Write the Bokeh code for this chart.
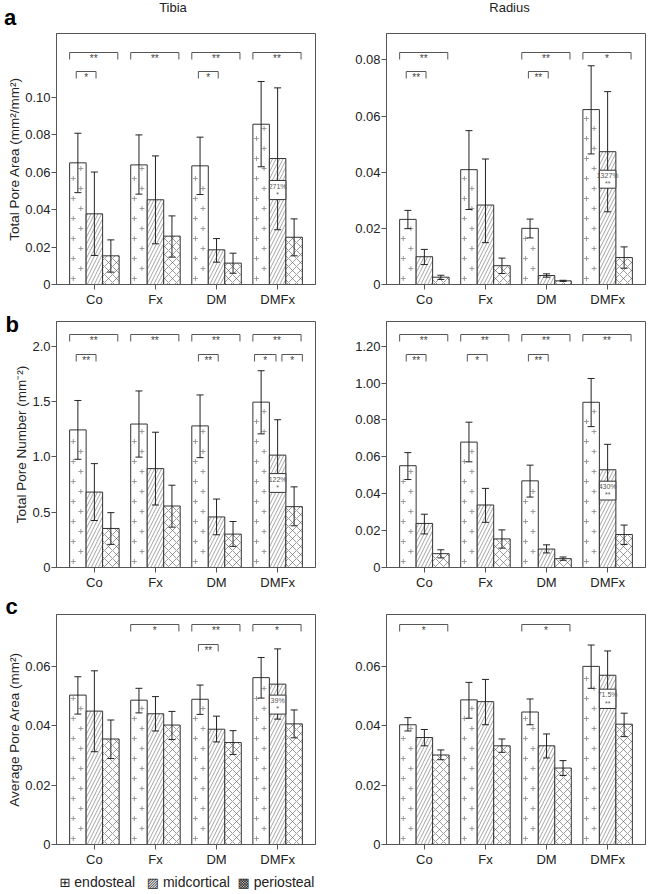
from bokeh.plotting import figure
from bokeh.models import ColumnDataSource, FixedTicker, Range1d, Div
from bokeh.layouts import row, column
from bokeh.embed import file_html
from bokeh.resources import INLINE
from bokeh.core.properties import value

# ---------------- data ----------------
groups = ["Co", "Fx", "DM", "DMFx"]
layers = ["endosteal", "midcortical", "periosteal"]

# a - Tibia: Total Pore Area (mm2/mm2)
tibia_area = {"endosteal": [0.0649, 0.0638, 0.0633, 0.0855],
              "midcortical": [0.0377, 0.0452, 0.0185, 0.0672],
              "periosteal": [0.0153, 0.0258, 0.0114, 0.0252]}
tibia_area_upper = {"endosteal": [0.0807, 0.0798, 0.0786, 0.1083],
                    "midcortical": [0.0600, 0.0686, 0.0245, 0.1049],
                    "periosteal": [0.0238, 0.0366, 0.0167, 0.0350]}
tibia_area_lower = {"endosteal": [0.0490, 0.0482, 0.0480, 0.0628],
                    "midcortical": [0.0155, 0.0217, 0.0119, 0.0292],
                    "periosteal": [0.0066, 0.0146, 0.0060, 0.0153]}

# a - Radius: Total Pore Area
radius_area = {"endosteal": [0.0232, 0.0409, 0.0200, 0.0623],
               "midcortical": [0.0099, 0.0283, 0.0032, 0.0473],
               "periosteal": [0.0026, 0.0067, 0.0013, 0.0096]}
radius_area_upper = {"endosteal": [0.0264, 0.0548, 0.0233, 0.0779],
                     "midcortical": [0.0125, 0.0447, 0.0038, 0.0687],
                     "periosteal": [0.0033, 0.0094, 0.0015, 0.0134]}
radius_area_lower = {"endosteal": [0.0199, 0.0267, 0.0166, 0.0465],
                     "midcortical": [0.0071, 0.0149, 0.0026, 0.0259],
                     "periosteal": [0.0018, 0.0039, 0.0011, 0.0058]}

# b - Tibia: Total Pore Number (mm-2)
tibia_number = {"endosteal": [1.244, 1.297, 1.280, 1.495],
                "midcortical": [0.682, 0.894, 0.457, 1.016],
                "periosteal": [0.353, 0.556, 0.302, 0.550]}
tibia_number_upper = {"endosteal": [1.510, 1.596, 1.560, 1.779],
                      "midcortical": [0.939, 1.223, 0.619, 1.336],
                      "periosteal": [0.496, 0.744, 0.416, 0.729]}
tibia_number_lower = {"endosteal": [0.978, 0.998, 0.993, 1.208],
                      "midcortical": [0.425, 0.565, 0.296, 0.690],
                      "periosteal": [0.209, 0.365, 0.191, 0.377]}

# b - Radius: Total Pore Number
radius_number = {"endosteal": [0.552, 0.680, 0.470, 0.896],
                 "midcortical": [0.239, 0.339, 0.100, 0.530],
                 "periosteal": [0.075, 0.155, 0.048, 0.179]}
radius_number_upper = {"endosteal": [0.623, 0.788, 0.555, 1.025],
                       "midcortical": [0.289, 0.429, 0.123, 0.668],
                       "periosteal": [0.096, 0.204, 0.057, 0.230]}
radius_number_lower = {"endosteal": [0.477, 0.573, 0.382, 0.764],
                       "midcortical": [0.182, 0.245, 0.079, 0.393],
                       "periosteal": [0.052, 0.105, 0.039, 0.125]}

# c - Tibia: Average Pore Area (mm2)
tibia_avg = {"endosteal": [0.0504, 0.0487, 0.0490, 0.0563],
             "midcortical": [0.0450, 0.0441, 0.0389, 0.0541],
             "periosteal": [0.0356, 0.0403, 0.0344, 0.0407]}
tibia_avg_upper = {"endosteal": [0.0566, 0.0527, 0.0538, 0.0631],
                   "midcortical": [0.0586, 0.0499, 0.0433, 0.0660],
                   "periosteal": [0.0420, 0.0449, 0.0384, 0.0454]}
tibia_avg_lower = {"endosteal": [0.0440, 0.0444, 0.0439, 0.0494],
                   "midcortical": [0.0313, 0.0383, 0.0346, 0.0423],
                   "periosteal": [0.0290, 0.0354, 0.0304, 0.0360]}

# c - Radius: Average Pore Area
radius_avg = {"endosteal": [0.0404, 0.0488, 0.0447, 0.0601],
              "midcortical": [0.0361, 0.0482, 0.0333, 0.0571],
              "periosteal": [0.0302, 0.0333, 0.0258, 0.0406]}
radius_avg_upper = {"endosteal": [0.0428, 0.0547, 0.0491, 0.0673],
                    "midcortical": [0.0388, 0.0557, 0.0373, 0.0653],
                    "periosteal": [0.0319, 0.0356, 0.0283, 0.0443]}
radius_avg_lower = {"endosteal": [0.0383, 0.0426, 0.0404, 0.0527],
                    "midcortical": [0.0333, 0.0404, 0.0292, 0.0487],
                    "periosteal": [0.0286, 0.0311, 0.0233, 0.0364]}

# tick values and labels
ticks_tibia_area = [0.0, 0.02, 0.04, 0.06, 0.08, 0.10]
labels_tibia_area = ["0", "0.02", "0.04", "0.06", "0.08", "0.10"]
ticks_radius_area = [0.0, 0.02, 0.04, 0.06, 0.08]
labels_radius_area = ["0", "0.02", "0.04", "0.06", "0.08"]
ticks_tibia_number = [0.0, 0.5, 1.0, 1.5, 2.0]
labels_tibia_number = ["0", "0.5", "1.0", "1.5", "2.0"]
ticks_radius_number = [0.0, 0.2, 0.4, 0.6, 0.8, 1.0, 1.2]
labels_radius_number = ["0", "0.02", "0.04", "0.06", "0.08", "1.00", "1.20"]
ticks_tibia_avg = [0.0, 0.02, 0.04, 0.06]
labels_tibia_avg = ["0", "0.02", "0.04", "0.06"]
ticks_radius_avg = [0.0, 0.02, 0.04, 0.06]
labels_radius_avg = ["0", "0.02", "0.04", "0.06"]

# significance brackets: (group index, bracket kind, label)  kind 0 = wide, 1..3 = narrow
sig_tibia_area = [(0, 0, "**"), (1, 0, "**"), (2, 0, "**"), (3, 0, "**"), (0, 1, "*"), (2, 1, "*")]
sig_radius_area = [(0, 0, "**"), (2, 0, "**"), (3, 0, "*"), (0, 1, "**"), (2, 1, "**")]
sig_tibia_number = [(0, 0, "**"), (1, 0, "**"), (2, 0, "**"), (3, 0, "**"),
                    (0, 1, "**"), (2, 1, "**"), (3, 2, "*"), (3, 3, "*")]
sig_radius_number = [(0, 0, "**"), (1, 0, "**"), (2, 0, "**"), (3, 0, "**"),
                     (0, 1, "**"), (1, 1, "*"), (2, 1, "**")]
sig_tibia_avg = [(1, 0, "*"), (2, 0, "**"), (3, 0, "*"), (2, 1, "**")]
sig_radius_avg = [(0, 0, "*"), (2, 0, "*")]

# DMFx midcortical change boxes: (low, high, percent, significance)
box_tibia_area = (0.0453, 0.0555, "271%", "*")
box_radius_area = (0.0343, 0.0407, "1327%", "**")
box_tibia_number = (0.679, 0.849, "122%", "*")
box_radius_number = (0.366, 0.468, "430%", "**")
box_tibia_avg = (0.0440, 0.0504, "39%", "*")
box_radius_avg = (0.0459, 0.0524, "71.5%", "**")

# ---------------- styling ----------------
FONT = "Liberation Sans"
BW = 0.27
OFFS = {"endosteal": -BW, "midcortical": 0.0, "periosteal": BW}
HATCH = {
    "endosteal": {},
    "midcortical": dict(hatch_pattern="/", hatch_scale=7, hatch_weight=0.6, hatch_color="#666"),
    "periosteal": dict(hatch_pattern="x", hatch_scale=8, hatch_weight=0.6, hatch_color="#555"),
}
# bracket x extents in bar-width units relative to group centre, by kind
BRACKET_X = {0: (-1.5, 1.42), 1: (-1.1, 0.1), 2: (-1.4, -0.1), 3: (0.26, 1.5)}


def make_panel(mean, upper, lower, y_end, ticks, tick_labels, ylabel, sigs, box,
               width, height, bl, br, bt, bb, lev_px, letter=None, letter_standoff=0):
    frame_h = height - bt - bb
    frame_w = width - bl - br
    pu = y_end / frame_h  # data units per pixel
    xu = 4.24 / frame_w
    p = figure(width=width, height=height, x_range=Range1d(-0.62, 3.62), y_range=Range1d(0, y_end),
               output_backend="svg", toolbar_location=None,
               min_border_left=bl, min_border_right=br, min_border_top=bt, min_border_bottom=bb)
    xs = list(range(len(groups)))
    srcs = {}
    for layer in layers:
        src = ColumnDataSource(dict(x=[g + OFFS[layer] for g in xs], top=mean[layer],
                                    up=upper[layer], lo=lower[layer]))
        srcs[layer] = src
        p.vbar(x="x", top="top", bottom=0, width=BW, source=src,
               fill_color="white", line_color="#333", line_width=1, **HATCH[layer])
    # sparse plus-sign texture for endosteal bars
    px, py = [], []
    step = 10 * pu
    for g, v in zip(xs, mean["endosteal"]):
        left = g + OFFS["endosteal"] - BW / 2
        k = 0
        y = step * 0.6
        while y < v - step * 0.3:
            px.append(left + BW * (0.22 if k % 2 == 0 else 0.68))
            py.append(y)
            y += step
            k += 1
    p.scatter(px, py, marker="cross", size=5, line_color="#888", line_width=0.8)

    # error bars
    cap = 3.5 * xu
    for layer in layers:
        src = srcs[layer]
        p.segment(x0="x", y0="lo", x1="x", y1="up", source=src, line_color="#222", line_width=1)
        d = src.data
        p.segment(x0=[x - cap for x in d["x"]] * 2, x1=[x + cap for x in d["x"]] * 2,
                  y0=list(d["up"]) + list(d["lo"]), y1=list(d["up"]) + list(d["lo"]),
                  line_color="#222", line_width=1)

    # change box on DMFx midcortical bar
    lo, hi, pct, sg = box
    xm = 3 + OFFS["midcortical"]
    p.quad(left=[xm - BW / 2], right=[xm + BW / 2], bottom=[lo], top=[hi],
           fill_color="white", line_color="#333", line_width=1)
    p.text(x=[xm, xm], y=[hi - (hi - lo) * 0.3, lo + (hi - lo) * 0.28], text=[pct, sg],
           text_font=value(FONT), text_font_size="7px", text_align="center",
           text_baseline="middle", text_color="#555")

    # significance brackets
    x0s, y0s, x1s, y1s = [], [], [], []
    tx, ty, tt = [], [], []
    drop = 7 * pu
    for gi, lev, lab in sigs:
        s, e = BRACKET_X[lev]
        yl = y_end - lev_px[0 if lev == 0 else 1] * pu
        a, b = gi + s * BW, gi + e * BW
        x0s += [a, a, b]
        x1s += [b, a, b]
        y0s += [yl, yl, yl]
        y1s += [yl, yl - drop, yl - drop]
        tx.append((a + b) / 2)
        ty.append(yl - 6 * pu)
        tt.append(lab)
    p.segment(x0=x0s, y0=y0s, x1=x1s, y1=y1s, line_color="#555", line_width=1)
    p.text(x=tx, y=ty, text=tt, text_font=value(FONT), text_font_size="10px",
           text_align="center", text_baseline="middle", text_color="#444")

    # axes
    p.xaxis.ticker = FixedTicker(ticks=[float(x) for x in xs])
    p.xaxis.major_label_overrides = {float(i): g for i, g in enumerate(groups)}
    p.yaxis.ticker = FixedTicker(ticks=list(ticks))
    p.yaxis.major_label_overrides = {t: l for t, l in zip(ticks, tick_labels)}
    for ax in (p.xaxis[0], p.yaxis[0]):
        ax.axis_line_color = "#555"
        ax.major_tick_line_color = "#555"
        ax.major_tick_out = 5
        ax.major_tick_in = 0
        ax.minor_tick_line_color = None
        ax.major_label_text_font = FONT
        ax.major_label_text_font_size = "13px"
        ax.major_label_text_color = "#222"
    p.xaxis.major_label_standoff = 2
    p.yaxis.major_label_standoff = 1
    if ylabel:
        p.yaxis.axis_label = ylabel
        p.yaxis.axis_label_text_font = FONT
        p.yaxis.axis_label_text_font_size = "13.5px"
        p.yaxis.axis_label_text_font_style = "normal"
        p.yaxis.axis_label_text_color = "#222"
        p.yaxis.axis_label_standoff = 0
    p.xgrid.visible = False
    p.ygrid.visible = False
    p.outline_line_color = "#555"
    p.outline_line_width = 1
    p.outline_line_alpha = 1

    if letter:
        p.title.text = letter
        p.title.align = "left"
        p.title.offset = -51
        p.title.standoff = letter_standoff
        p.title.text_font = FONT
        p.title.text_font_size = "22px"
        p.title.text_font_style = "bold"
        p.title.text_color = "black"
    return p


LW, RW = 323, 325
LBL, LBR, RBL, RBR = 56, 8, 63, 3
HA, HB, HC = 284, 283, 277

pa_l = make_panel(tibia_area, tibia_area_upper, tibia_area_lower, 0.1339, ticks_tibia_area, labels_tibia_area,
                  "Total Pore Area (mm²/mm²)", sig_tibia_area, box_tibia_area,
                  LW, HA, LBL, LBR, 7, 26, (19, 38))
pa_r = make_panel(radius_area, radius_area_upper, radius_area_lower, 0.0894, ticks_radius_area, labels_radius_area,
                  None, sig_radius_area, box_radius_area,
                  RW, HA, RBL, RBR, 7, 26, (19, 38))
pb_l = make_panel(tibia_number, tibia_number_upper, tibia_number_lower, 2.224, ticks_tibia_number, labels_tibia_number,
                  "Total Pore Number (mm⁻²)", sig_tibia_number, box_tibia_number,
                  LW, HB, LBL, LBR, 11, 26, (13, 33), letter="b", letter_standoff=-31)
pb_r = make_panel(radius_number, radius_number_upper, radius_number_lower, 1.334, ticks_radius_number,
                  labels_radius_number, None, sig_radius_number, box_radius_number,
                  RW, HB, RBL, RBR, 11, 26, (13, 33))
pc_l = make_panel(tibia_avg, tibia_avg_upper, tibia_avg_lower, 0.0776, ticks_tibia_avg, labels_tibia_avg,
                  "Average Pore Area (mm²)", sig_tibia_avg, box_tibia_avg,
                  LW, HC, LBL, LBR, 21, 26, (10, 30), letter="c", letter_standoff=-8)
pc_r = make_panel(radius_avg, radius_avg_upper, radius_avg_lower, 0.0776, ticks_radius_avg, labels_radius_avg,
                  None, sig_radius_avg, box_radius_avg,
                  RW, HC, RBL, RBR, 21, 26, (10, 30))

# header: panel letter "a" and column titles
base_style = {"font-family": FONT, "color": "#222", "white-space": "nowrap"}
hdr = row(
    Div(text="a", width=LBL, height=26, margin=0,
        styles=dict(base_style, **{"font-size": "22px", "font-weight": "bold", "color": "black",
                                    "line-height": "36px", "padding-left": "4px"})),
    Div(text="Tibia", width=234, height=26, margin=0,
        styles=dict(base_style, **{"font-size": "13px", "text-align": "center", "line-height": "16px"})),
    Div(text="", width=90, height=26, margin=0),
    Div(text="Radius", width=259, height=26, margin=0,
        styles=dict(base_style, **{"font-size": "13px", "text-align": "center", "line-height": "16px"})),
    spacing=0,
)

# legend (symbols as text, as in the original figure)
sym = "<span style='font-family:\"DejaVu Sans\";font-size:13px'>{}</span>"
legend_html = (sym.format("⊞") + " endosteal&nbsp;&nbsp; " + sym.format("▨") + " midcortical&nbsp; "
               + sym.format("▩") + " periosteal")
leg = row(
    Div(text="", width=42, height=20, margin=0),
    Div(text=legend_html, width=290, height=20, margin=0,
        styles=dict(base_style, **{"font-size": "14px", "text-align": "center", "line-height": "24px"})),
    spacing=0,
)

layout = column(hdr, row(pa_l, pa_r, spacing=0), row(pb_l, pb_r, spacing=0), row(pc_l, pc_r, spacing=0),
                leg, spacing=0)

open("out.html", "w").write(file_html(layout, INLINE))
